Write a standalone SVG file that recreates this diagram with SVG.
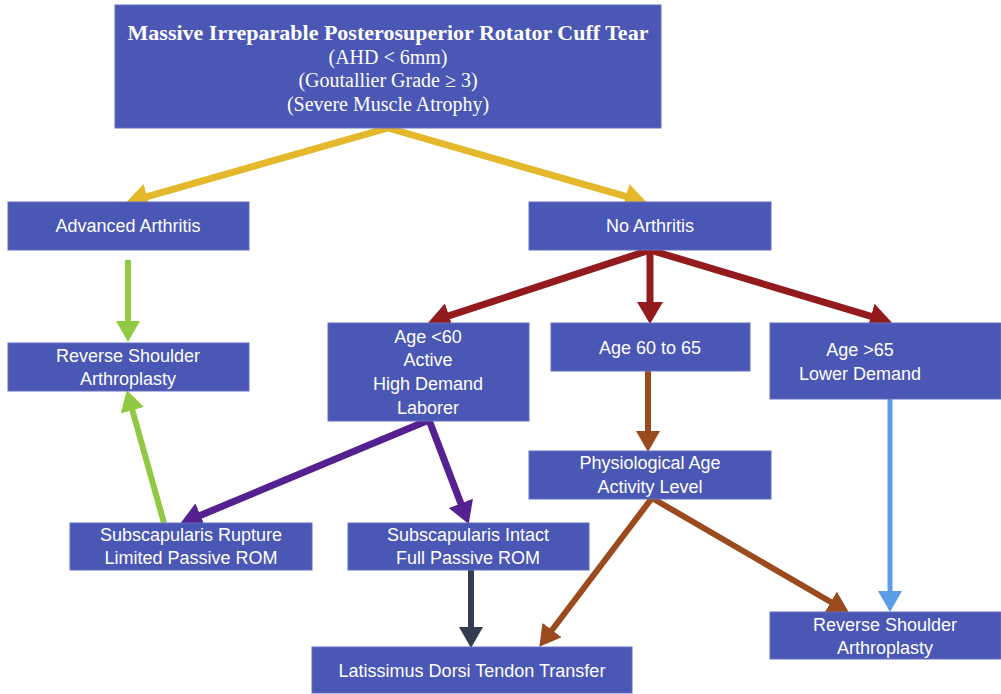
<svg xmlns="http://www.w3.org/2000/svg" width="1001" height="694" viewBox="0 0 1001 694">
<style>
.box{fill:#4A57B4;stroke:#6570C2;stroke-width:1}
.t{font-family:"Liberation Sans",Arial,sans-serif;font-size:18px;fill:#fff;text-anchor:middle;dominant-baseline:central}
.s{font-family:"Liberation Serif","Times New Roman",serif;fill:#fff;text-anchor:middle;dominant-baseline:central}
.c{fill:none;stroke-linecap:butt}
</style>
<defs>
<marker id="aY" markerUnits="userSpaceOnUse" markerWidth="24" markerHeight="26" refX="10" refY="13" orient="auto"><path d="M0,0 L22,13 L0,26 z" fill="#E5B82B"/></marker>
<marker id="aG" markerUnits="userSpaceOnUse" markerWidth="22" markerHeight="24" refX="10" refY="12" orient="auto"><path d="M0,0 L21,12 L0,24 z" fill="#92C943"/></marker>
<marker id="aR" markerUnits="userSpaceOnUse" markerWidth="24" markerHeight="26" refX="10" refY="13" orient="auto"><path d="M0,0 L22,13 L0,26 z" fill="#931A1D"/></marker>
<marker id="aB" markerUnits="userSpaceOnUse" markerWidth="22" markerHeight="24" refX="10" refY="12" orient="auto"><path d="M0,0 L21,12 L0,24 z" fill="#9A4A1C"/></marker>
<marker id="aL" markerUnits="userSpaceOnUse" markerWidth="22" markerHeight="24" refX="10" refY="12" orient="auto"><path d="M0,0 L21,12 L0,24 z" fill="#5B9DE8"/></marker>
<marker id="aP" markerUnits="userSpaceOnUse" markerWidth="24" markerHeight="26" refX="10" refY="13" orient="auto"><path d="M0,0 L22,13 L0,26 z" fill="#55208F"/></marker>
<marker id="aS" markerUnits="userSpaceOnUse" markerWidth="22" markerHeight="24" refX="10" refY="12" orient="auto"><path d="M0,0 L21,12 L0,24 z" fill="#333C50"/></marker>
</defs>
<rect width="1001" height="694" fill="#fff"/>

<g id="connectors">
<path class="c" d="M388,128 L137.6,199.3" stroke="#E5B82B" stroke-width="7" marker-end="url(#aY)"/>
<path class="c" d="M388,128 L635.4,199.2" stroke="#E5B82B" stroke-width="7" marker-end="url(#aY)"/>
<path class="c" d="M128,260 L128,331" stroke="#92C943" stroke-width="6" marker-end="url(#aG)"/>
<path class="c" d="M164,523 L129.7,400.6" stroke="#92C943" stroke-width="6" marker-end="url(#aG)"/>
<path class="c" d="M650,250 L439.5,318.9" stroke="#931A1D" stroke-width="7" marker-end="url(#aR)"/>
<path class="c" d="M650,250 L650,312" stroke="#931A1D" stroke-width="7" marker-end="url(#aR)"/>
<path class="c" d="M650,250 L880.4,319.1" stroke="#931A1D" stroke-width="7" marker-end="url(#aR)"/>
<path class="c" d="M648,371 L648,441" stroke="#9A4A1C" stroke-width="6" marker-end="url(#aB)"/>
<path class="c" d="M652,498 L546,638" stroke="#9A4A1C" stroke-width="6" marker-end="url(#aB)"/>
<path class="c" d="M652,498 L839.4,607" stroke="#9A4A1C" stroke-width="6" marker-end="url(#aB)"/>
<path class="c" d="M890,399 L890,601" stroke="#5B9DE8" stroke-width="5" marker-end="url(#aL)"/>
<path class="c" d="M429,420 L191.2,519.2" stroke="#55208F" stroke-width="7" marker-end="url(#aP)"/>
<path class="c" d="M429,420 L464.4,512.7" stroke="#55208F" stroke-width="7" marker-end="url(#aP)"/>
<path class="c" d="M471,570 L471,637" stroke="#333C50" stroke-width="6" marker-end="url(#aS)"/>
</g>

<g id="top">
<rect class="box" x="115" y="5" width="546" height="123"/>
<text class="s" x="388" y="32" font-size="22" font-weight="bold">Massive Irreparable Posterosuperior Rotator Cuff Tear</text>
<text class="s" x="388" y="57" font-size="20">(AHD &lt; 6mm)</text>
<text class="s" x="388" y="80" font-size="20">(Goutallier Grade ≥ 3)</text>
<text class="s" x="388" y="104" font-size="20">(Severe Muscle Atrophy)</text>
</g>
<g id="advanced">
<rect class="box" x="8" y="202" width="241" height="48"/>
<text class="t" x="128" y="226">Advanced Arthritis</text>
</g>
<g id="noarth">
<rect class="box" x="529" y="202" width="242" height="48"/>
<text class="t" x="650" y="226">No Arthritis</text>
</g>
<g id="rsa-left">
<rect class="box" x="8" y="343" width="241" height="48"/>
<text class="t" x="128" y="356">Reverse Shoulder</text>
<text class="t" x="128" y="379">Arthroplasty</text>
</g>
<g id="age-lt60">
<rect class="box" x="328" y="323" width="201" height="98"/>
<text class="t" x="428" y="337">Age &lt;60</text>
<text class="t" x="428" y="360">Active</text>
<text class="t" x="428" y="384">High Demand</text>
<text class="t" x="428" y="408">Laborer</text>
</g>
<g id="age-60-65">
<rect class="box" x="551" y="323" width="199" height="48"/>
<text class="t" x="650" y="348">Age 60 to 65</text>
</g>
<g id="age-gt65">
<rect class="box" x="770" y="323" width="231" height="76"/>
<text class="t" x="860" y="350">Age &gt;65</text>
<text class="t" x="860" y="374">Lower Demand</text>
</g>
<g id="physio">
<rect class="box" x="529" y="451" width="242" height="48"/>
<text class="t" x="650" y="463">Physiological Age</text>
<text class="t" x="650" y="487">Activity Level</text>
</g>
<g id="subscap-rupture">
<rect class="box" x="70" y="523" width="242" height="47"/>
<text class="t" x="191" y="535">Subscapularis Rupture</text>
<text class="t" x="191" y="558">Limited Passive ROM</text>
</g>
<g id="subscap-intact">
<rect class="box" x="348" y="523" width="241" height="47"/>
<text class="t" x="468" y="535">Subscapularis Intact</text>
<text class="t" x="468" y="558">Full Passive ROM</text>
</g>
<g id="latissimus">
<rect class="box" x="312" y="647" width="320" height="46"/>
<text class="t" x="472" y="671">Latissimus Dorsi Tendon Transfer</text>
</g>
<g id="rsa-right">
<rect class="box" x="770" y="612" width="231" height="47"/>
<text class="t" x="885" y="625">Reverse Shoulder</text>
<text class="t" x="885" y="648">Arthroplasty</text>
</g>
</svg>
